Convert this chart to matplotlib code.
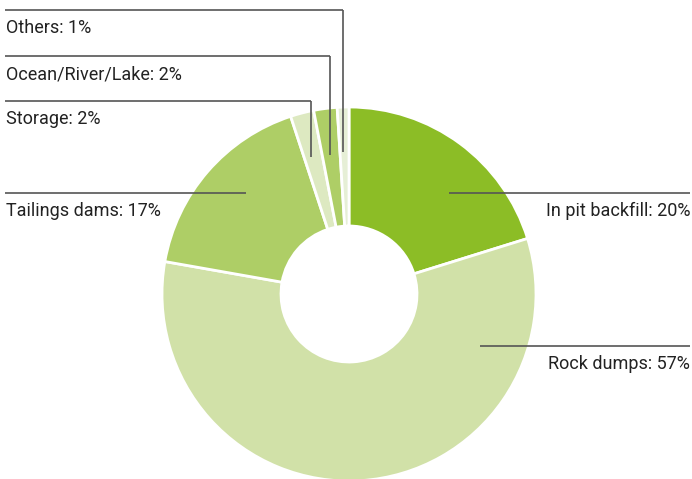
import matplotlib.pyplot as plt

labels = ['In pit backfill', 'Rock dumps', 'Tailings dams', 'Storage', 'Ocean/River/Lake', 'Others']
shares = [20, 57, 17, 2, 2, 1]
colors = ['#8cbd26', '#d1e1a8', '#aece66', '#dde9c1', '#aece66', '#e6efd6']

plt.rcParams['font.family'] = ['Roboto', 'DejaVu Sans']

W, H = 692, 479
fig = plt.figure(figsize=(W / 100, H / 100), dpi=100)
ax = fig.add_axes([0, 0, 1, 1])

cx, cy = 349, H - 294
R = 187
ax.pie(shares, colors=colors, startangle=90, counterclock=False,
       center=(cx, cy), radius=R, frame=True,
       wedgeprops=dict(width=R - 68, edgecolor='white', linewidth=2))
ax.set_xlim(0, W)
ax.set_ylim(0, H)
ax.set_aspect('equal')
ax.axis('off')

lc = '#555555'
tc = '#222222'
fs = 13

# leader lines (pixel coords, y from top) and label text
def hline(x0, x1, y):
    ax.plot([x0, x1], [H - y, H - y], color=lc, lw=1.2, solid_capstyle='butt')

def vline(x, y0, y1):
    ax.plot([x, x], [H - y0, H - y1], color=lc, lw=1.2, solid_capstyle='butt')

def label(x, y, txt, ha):
    ax.text(x, H - y - 23, txt, ha=ha, va='baseline', fontsize=fs, color=tc)

left = [(labels[5], shares[5], 10, 343, 152),
        (labels[4], shares[4], 56, 330, 155),
        (labels[3], shares[3], 101, 311, 157)]
for name, val, y, xv, yend in left:
    hline(5, xv, y)
    vline(xv, y, yend)
    label(6, y, f'{name}: {val}%', 'left')

hline(5, 246, 193)
label(6, 193, f'{labels[2]}: {shares[2]}%', 'left')

hline(449, 690, 193)
label(690, 193, f'{labels[0]}: {shares[0]}%', 'right')

hline(480, 690, 346)
label(690, 346, f'{labels[1]}: {shares[1]}%', 'right')

fig.savefig('out.png', dpi=100)
